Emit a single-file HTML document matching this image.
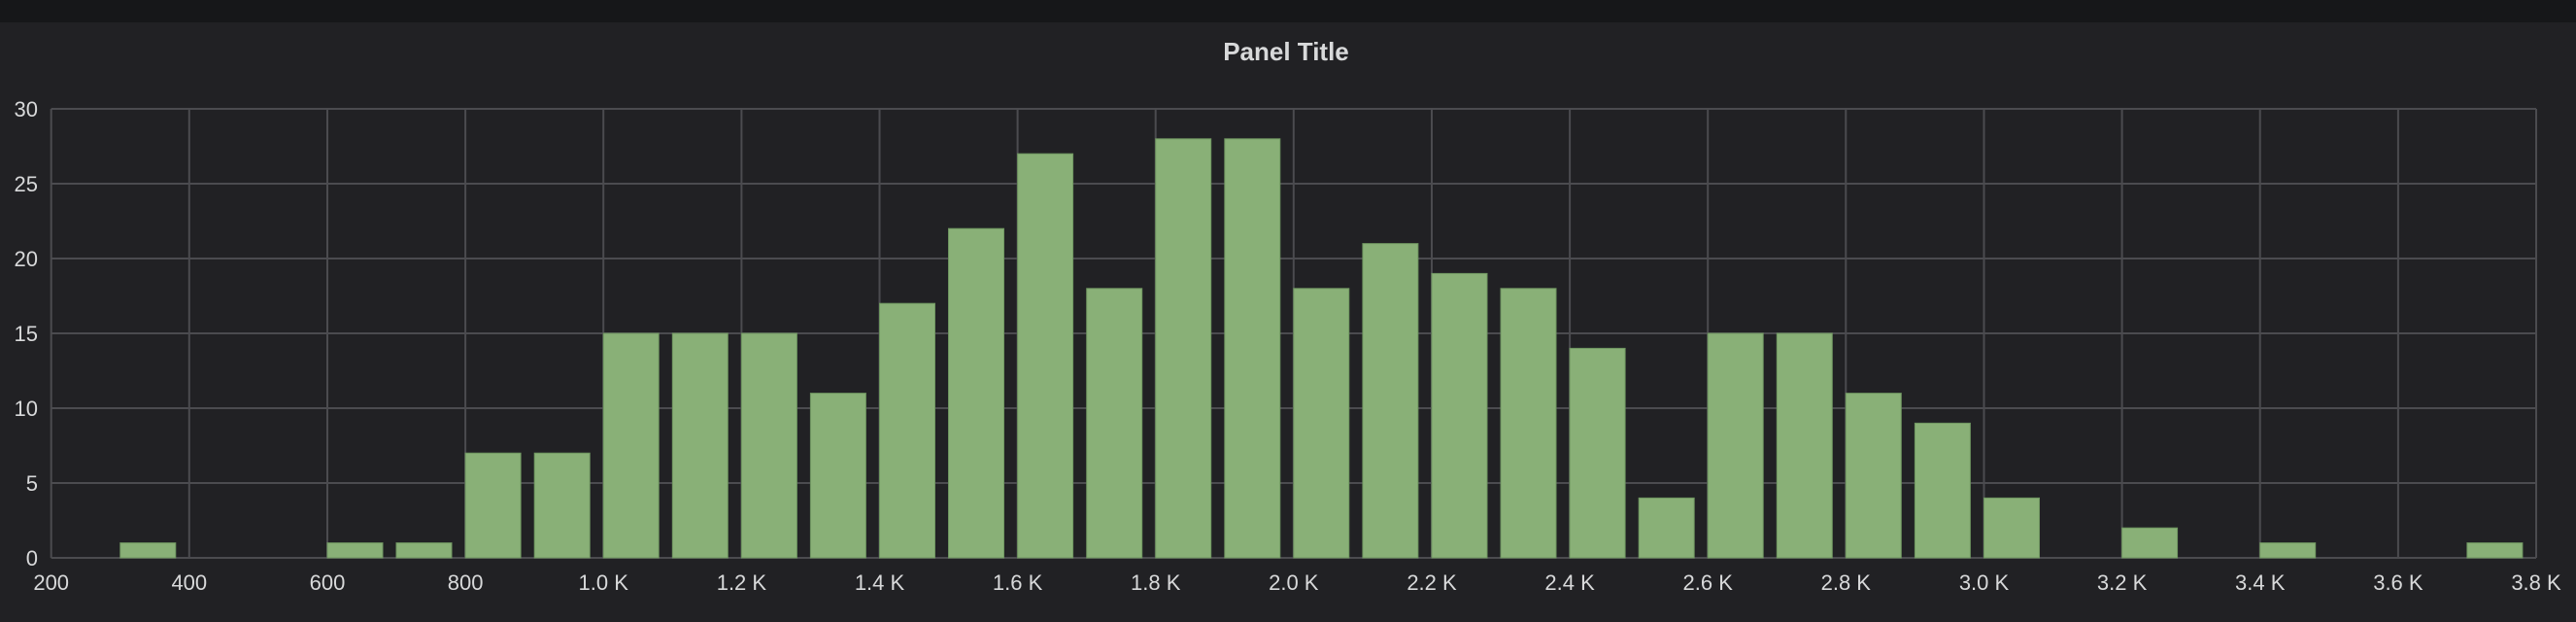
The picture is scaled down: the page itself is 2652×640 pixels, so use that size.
<!DOCTYPE html>
<html><head><meta charset="utf-8"><style>
html,body{margin:0;padding:0;background:#212124;}
svg{display:block;}
text{font-family:"Liberation Sans",sans-serif;fill:#d8d9da;}
</style></head><body>
<svg width="2652" height="640" xmlns="http://www.w3.org/2000/svg">
<rect x="0" y="0" width="2652" height="640" fill="#212124"/>
<rect x="0" y="0" width="2652" height="23" fill="#161719"/>
<text x="1324" y="62" font-size="26" font-weight="bold" text-anchor="middle">Panel Title</text>
<g stroke="#4b4b4f" stroke-width="2" fill="none">
<line x1="52.7" y1="112" x2="2611" y2="112"/>
<line x1="52.7" y1="189" x2="2611" y2="189"/>
<line x1="52.7" y1="266" x2="2611" y2="266"/>
<line x1="52.7" y1="343" x2="2611" y2="343"/>
<line x1="52.7" y1="420" x2="2611" y2="420"/>
<line x1="52.7" y1="497" x2="2611" y2="497"/>
<line x1="52.7" y1="574" x2="2611" y2="574"/>
<line x1="52.7" y1="112" x2="52.7" y2="574"/>
<line x1="194.8" y1="112" x2="194.8" y2="574"/>
<line x1="337" y1="112" x2="337" y2="574"/>
<line x1="479.1" y1="112" x2="479.1" y2="574"/>
<line x1="621.2" y1="112" x2="621.2" y2="574"/>
<line x1="763.4" y1="112" x2="763.4" y2="574"/>
<line x1="905.5" y1="112" x2="905.5" y2="574"/>
<line x1="1047.6" y1="112" x2="1047.6" y2="574"/>
<line x1="1189.7" y1="112" x2="1189.7" y2="574"/>
<line x1="1331.8" y1="112" x2="1331.8" y2="574"/>
<line x1="1474" y1="112" x2="1474" y2="574"/>
<line x1="1616.1" y1="112" x2="1616.1" y2="574"/>
<line x1="1758.2" y1="112" x2="1758.2" y2="574"/>
<line x1="1900.3" y1="112" x2="1900.3" y2="574"/>
<line x1="2042.5" y1="112" x2="2042.5" y2="574"/>
<line x1="2184.6" y1="112" x2="2184.6" y2="574"/>
<line x1="2326.7" y1="112" x2="2326.7" y2="574"/>
<line x1="2468.9" y1="112" x2="2468.9" y2="574"/>
<line x1="2611" y1="112" x2="2611" y2="574"/>
</g>
<g fill="#89b077" stroke="#6f9660" stroke-width="1">
<rect x="123.8" y="558.6" width="57" height="15.4"/>
<rect x="337" y="558.6" width="57" height="15.4"/>
<rect x="408" y="558.6" width="57" height="15.4"/>
<rect x="479.1" y="466.2" width="57" height="107.8"/>
<rect x="550.2" y="466.2" width="57" height="107.8"/>
<rect x="621.2" y="343" width="57" height="231"/>
<rect x="692.3" y="343" width="57" height="231"/>
<rect x="763.4" y="343" width="57" height="231"/>
<rect x="834.4" y="404.6" width="57" height="169.4"/>
<rect x="905.5" y="312.2" width="57" height="261.8"/>
<rect x="976.5" y="235.2" width="57" height="338.8"/>
<rect x="1047.6" y="158.2" width="57" height="415.8"/>
<rect x="1118.7" y="296.8" width="57" height="277.2"/>
<rect x="1189.7" y="142.8" width="57" height="431.2"/>
<rect x="1260.8" y="142.8" width="57" height="431.2"/>
<rect x="1331.8" y="296.8" width="57" height="277.2"/>
<rect x="1402.9" y="250.6" width="57" height="323.4"/>
<rect x="1474" y="281.4" width="57" height="292.6"/>
<rect x="1545" y="296.8" width="57" height="277.2"/>
<rect x="1616.1" y="358.4" width="57" height="215.6"/>
<rect x="1687.2" y="512.4" width="57" height="61.6"/>
<rect x="1758.2" y="343" width="57" height="231"/>
<rect x="1829.3" y="343" width="57" height="231"/>
<rect x="1900.3" y="404.6" width="57" height="169.4"/>
<rect x="1971.4" y="435.4" width="57" height="138.6"/>
<rect x="2042.5" y="512.4" width="57" height="61.6"/>
<rect x="2184.6" y="543.2" width="57" height="30.8"/>
<rect x="2326.7" y="558.6" width="57" height="15.4"/>
<rect x="2539.9" y="558.6" width="57" height="15.4"/>
</g>
<g font-size="22" text-anchor="end">
<text x="39" y="120">30</text>
<text x="39" y="197">25</text>
<text x="39" y="274">20</text>
<text x="39" y="351">15</text>
<text x="39" y="428">10</text>
<text x="39" y="505">5</text>
<text x="39" y="582">0</text>
</g>
<g font-size="22" text-anchor="middle">
<text x="52.7" y="607">200</text>
<text x="194.8" y="607">400</text>
<text x="337" y="607">600</text>
<text x="479.1" y="607">800</text>
<text x="621.2" y="607">1.0 K</text>
<text x="763.4" y="607">1.2 K</text>
<text x="905.5" y="607">1.4 K</text>
<text x="1047.6" y="607">1.6 K</text>
<text x="1189.7" y="607">1.8 K</text>
<text x="1331.8" y="607">2.0 K</text>
<text x="1474" y="607">2.2 K</text>
<text x="1616.1" y="607">2.4 K</text>
<text x="1758.2" y="607">2.6 K</text>
<text x="1900.3" y="607">2.8 K</text>
<text x="2042.5" y="607">3.0 K</text>
<text x="2184.6" y="607">3.2 K</text>
<text x="2326.7" y="607">3.4 K</text>
<text x="2468.9" y="607">3.6 K</text>
<text x="2611" y="607">3.8 K</text>
</g>
</svg>
</body></html>
